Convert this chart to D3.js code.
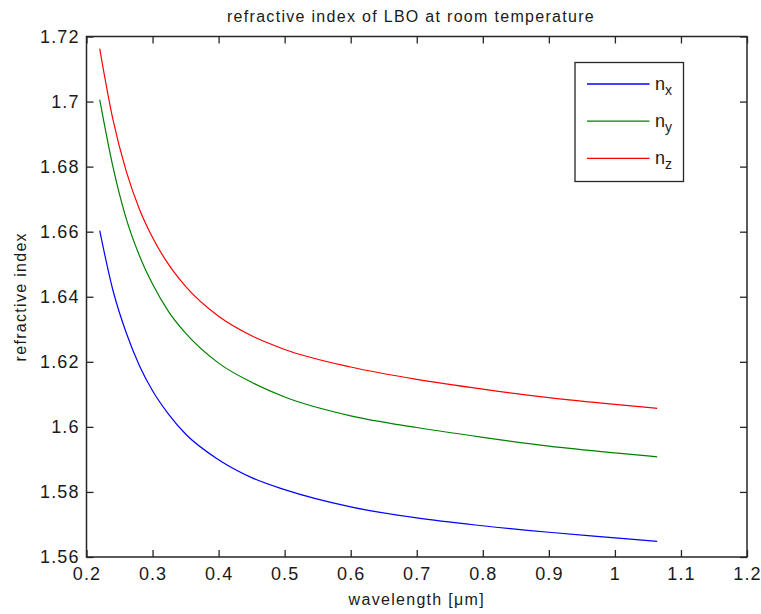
<!DOCTYPE html>
<html>
<head>
<meta charset="utf-8">
<script src="https://cdn.jsdelivr.net/npm/d3@7"></script>
<style>
  html, body { margin: 0; padding: 0; background: #fff; }
  svg { display: block; font-family: "Liberation Sans", Arial, sans-serif; }
</style>
</head>
<body>
<svg id="chart" width="761" height="614"></svg>
<script>
// Wavelength grid in micrometres
const wavelength = [0.22, 0.24, 0.26, 0.28, 0.30, 0.325, 0.35, 0.40, 0.45, 0.50, 0.60, 0.70, 0.80, 0.90, 1.00, 1.064];

// Principal refractive indices of LBO at room temperature
const nX = [1.6603, 1.6420, 1.6290, 1.6189, 1.6111, 1.6037, 1.5978, 1.5899, 1.5844, 1.5807, 1.5754, 1.5720, 1.5696, 1.5676, 1.5659, 1.5648];
const nY = [1.7006, 1.6800, 1.6641, 1.6527, 1.6439, 1.6352, 1.6288, 1.6196, 1.6137, 1.6092, 1.6034, 1.5998, 1.5968, 1.5941, 1.5920, 1.5908];
const nZ = [1.7163, 1.6945, 1.6787, 1.6670, 1.6582, 1.6497, 1.6432, 1.6340, 1.6280, 1.6238, 1.6184, 1.6146, 1.6116, 1.6090, 1.6069, 1.6057];

const seriesNames = ["x", "y", "z"];
const seriesColors = ["#0000ff", "#008000", "#ff0000"];

const xTicks = [0.2, 0.3, 0.4, 0.5, 0.6, 0.7, 0.8, 0.9, 1, 1.1, 1.2];
const yTicks = [1.56, 1.58, 1.6, 1.62, 1.64, 1.66, 1.68, 1.7, 1.72];

const titleText = "refractive index of LBO at room temperature";
const xLabel = "wavelength [\u03bcm]";
const yLabel = "refractive index";

const series = [nX, nY, nZ].map((vals, i) => ({
  name: seriesNames[i],
  color: seriesColors[i],
  points: wavelength.map((w, j) => [w, vals[j]])
}));

const svg = d3.select("#chart");
const plotLeft = 86.5, plotRight = 747, plotTop = 36.5, plotBottom = 557;
const axisColor = "#262626";
const textColor = "#1a1a1a";
const tickLen = 7;

const x = d3.scaleLinear().domain([0.2, 1.2]).range([plotLeft, plotRight]);
const y = d3.scaleLinear().domain([1.56, 1.72]).range([plotBottom, plotTop]);

const fmt = d => String(+d.toFixed(2));

// Curves
const line = d3.line()
  .x(d => x(d[0]))
  .y(d => y(d[1]))
  .curve(d3.curveMonotoneX);

svg.append("g").selectAll("path")
  .data(series)
  .join("path")
  .attr("fill", "none")
  .attr("stroke", d => d.color)
  .attr("stroke-width", 1.2)
  .attr("d", d => line(d.points));

// Axes: bottom/left with labels, top/right mirrored ticks only
const tickStyle = g => {
  g.select(".domain").remove();
  g.selectAll(".tick line").attr("stroke", axisColor).attr("stroke-width", 1.3);
  g.selectAll(".tick text")
    .attr("fill", textColor)
    .attr("font-size", 18)
    .attr("letter-spacing", 1.1)
    .attr("font-family", "Liberation Sans, Arial, sans-serif");
};

svg.append("g")
  .attr("transform", `translate(0,${plotBottom})`)
  .call(d3.axisBottom(x).tickValues(xTicks).tickFormat(fmt).tickSizeInner(-tickLen).tickSizeOuter(0).tickPadding(10))
  .call(tickStyle);

svg.append("g")
  .attr("transform", `translate(0,${plotTop})`)
  .call(d3.axisTop(x).tickValues(xTicks).tickFormat("").tickSizeInner(-tickLen).tickSizeOuter(0))
  .call(tickStyle);

svg.append("g")
  .attr("transform", `translate(${plotLeft},0)`)
  .call(d3.axisLeft(y).tickValues(yTicks).tickFormat(fmt).tickSizeInner(-tickLen).tickSizeOuter(0).tickPadding(7))
  .call(tickStyle);

svg.append("g")
  .attr("transform", `translate(${plotRight},0)`)
  .call(d3.axisRight(y).tickValues(yTicks).tickFormat("").tickSizeInner(-tickLen).tickSizeOuter(0))
  .call(tickStyle);

// Plot box
svg.append("rect")
  .attr("x", plotLeft).attr("y", plotTop)
  .attr("width", plotRight - plotLeft).attr("height", plotBottom - plotTop)
  .attr("fill", "none")
  .attr("stroke", axisColor)
  .attr("stroke-width", 1.5);

// Title and axis labels
const labelStyle = t => t
  .attr("text-anchor", "middle")
  .attr("font-size", 16)
  .attr("letter-spacing", 1.3)
  .attr("fill", textColor);

svg.append("text")
  .attr("x", 411).attr("y", 22)
  .call(labelStyle)
  .text(titleText);

svg.append("text")
  .attr("x", (plotLeft + plotRight) / 2).attr("y", 605)
  .call(labelStyle)
  .text(xLabel);

svg.append("text")
  .attr("transform", `translate(26,${(plotTop + plotBottom) / 2}) rotate(-90)`)
  .call(labelStyle)
  .text(yLabel);

// Legend
const legend = svg.append("g");
legend.append("rect")
  .attr("x", 575).attr("y", 62.5)
  .attr("width", 108.5).attr("height", 119)
  .attr("fill", "#fff")
  .attr("stroke", axisColor)
  .attr("stroke-width", 1.3);

const legendRows = legend.selectAll("g.row")
  .data(series)
  .join("g")
  .attr("class", "row")
  .attr("transform", (d, i) => `translate(0,${84 + i * 37.2})`);

legendRows.append("line")
  .attr("x1", 587).attr("x2", 649.5)
  .attr("y1", 0).attr("y2", 0)
  .attr("stroke", d => d.color)
  .attr("stroke-width", 1.3);

const lt = legendRows.append("text")
  .attr("x", 655).attr("y", 6)
  .attr("font-size", 18)
  .attr("fill", textColor);
lt.append("tspan").text("n");
lt.append("tspan").attr("dy", 5).attr("font-size", 14).text(d => d.name);
</script>
</body>
</html>
